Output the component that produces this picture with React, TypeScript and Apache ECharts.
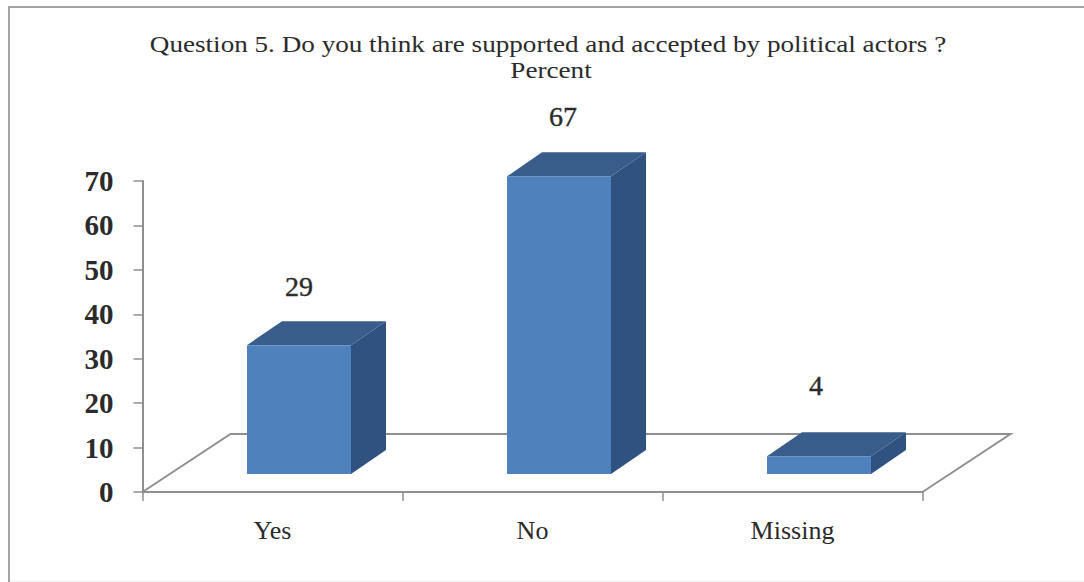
import React, { useEffect, useRef } from "react";
import * as echarts from "echarts";

const categories = ["Yes", "No", "Missing"];
const percentValues = [29, 67, 4];
const yTicks = { min: 0, max: 70, interval: 10 };
const titleLine = "Question 5. Do you think are supported and accepted by political actors ?";
const subtitleLine = "Percent";

// Oblique projection used for the fake 3D look.
const FLOOR_DX = 88;
const FLOOR_DY = -58;
const BAR_DX = 35;
const BAR_DY = -24;
const BAR_LIFT = 18; // bars stand partway back on the floor
const BAR_SHIFT = 26.5; // and sit to the right of their category centre
const BAR_WIDTH = 104;
const LABEL_NUDGE = [
  [0, -58.5],
  [4, -60],
  [-3, -71],
];

// The heading is set in a horizontally stretched serif.
const TITLE_SIZE = 24;
const TITLE_STRETCH = 1.131;

const SERIF = "'Liberation Serif', 'Times New Roman', serif";
const AXIS_GREY = "#8f8f8f";
const FRAME_GREY = "#a3a3a3";
const FRONT = "#4f81bd";
const TOP = "#385d8a";
const SIDE = "#2f5280";
const TEXT = "#2b2b2b";

function renderFloor(params: any, api: any) {
  const { x, y, width, height } = params.coordSys;
  const bottom = y + height;
  return {
    type: "polyline",
    silent: true,
    shape: {
      points: [
        [x, bottom],
        [x + FLOOR_DX, bottom + FLOOR_DY],
        [x + width + FLOOR_DX, bottom + FLOOR_DY],
        [x + width, bottom],
      ],
    },
    style: { stroke: AXIS_GREY, lineWidth: 2, fill: "none" },
  };
}

function renderBar(params: any, api: any) {
  const centre = api.coord([api.value(0), 0])[0] + BAR_SHIFT;
  const base = api.coord([api.value(0), 0])[1] - BAR_LIFT;
  const height = api.size([0, api.value(1)])[1];
  const left = centre - BAR_WIDTH / 2;
  const right = centre + BAR_WIDTH / 2;
  const top = base - height;
  const nudge = LABEL_NUDGE[params.dataIndex];
  return {
    type: "group",
    children: [
      {
        type: "polygon",
        shape: {
          points: [
            [right, top],
            [right + BAR_DX, top + BAR_DY],
            [right + BAR_DX, base + BAR_DY],
            [right, base],
          ],
        },
        style: { fill: SIDE },
      },
      {
        type: "polygon",
        shape: {
          points: [
            [left, top],
            [left + BAR_DX, top + BAR_DY],
            [right + BAR_DX, top + BAR_DY],
            [right, top],
          ],
        },
        style: { fill: TOP },
      },
      {
        type: "rect",
        shape: { x: left, y: top, width: BAR_WIDTH, height },
        style: { fill: FRONT },
      },
      {
        type: "text",
        style: {
          x: centre + nudge[0],
          y: top + nudge[1],
          text: String(api.value(1)),
          fill: TEXT,
          stroke: TEXT,
          lineWidth: 0.4,
          font: `28px ${SERIF}`,
          align: "center",
          verticalAlign: "middle",
        },
      },
    ],
  };
}

function headingText(text: string, cx: number, cy: number) {
  return {
    type: "text",
    silent: true,
    x: cx,
    y: cy,
    scaleX: TITLE_STRETCH,
    style: {
      text,
      fill: TEXT,
      font: `${TITLE_SIZE}px ${SERIF}`,
      align: "center",
      verticalAlign: "middle",
    },
  };
}

export default function App() {
  const ref = useRef<HTMLDivElement>(null);

  useEffect(() => {
    document.body.style.margin = "0";
    document.body.style.background = "#ffffff";
    const chart = echarts.init(ref.current!, undefined, { renderer: "svg" });
    chart.setOption({
      animation: false,
      backgroundColor: "#ffffff",
      grid: { left: 142.5, top: 181, width: 780, height: 311 },
      xAxis: {
        type: "category",
        data: categories,
        axisLine: { lineStyle: { color: AXIS_GREY, width: 2 } },
        axisTick: { show: true, alignWithLabel: false, length: 9, lineStyle: { color: AXIS_GREY, width: 1.5 } },
        axisLabel: { fontFamily: SERIF, fontSize: 26, color: TEXT, margin: 25 },
      },
      yAxis: {
        type: "value",
        min: yTicks.min,
        max: yTicks.max,
        interval: yTicks.interval,
        splitLine: { show: false },
        axisLine: { show: true, lineStyle: { color: AXIS_GREY, width: 2 } },
        axisTick: { show: true, length: 9, lineStyle: { color: AXIS_GREY, width: 1.5 } },
        axisLabel: { fontFamily: SERIF, fontSize: 29, fontWeight: "bold", color: TEXT, margin: 29 },
      },
      graphic: [
        {
          type: "polyline",
          silent: true,
          shape: { points: [[9, 582], [9, 7], [1084, 7]] },
          style: { fill: "none", stroke: FRAME_GREY, lineWidth: 2 },
        },
        {
          type: "line",
          silent: true,
          shape: { x1: 10, y1: 581, x2: 1084, y2: 581 },
          style: { stroke: "#ececec", lineWidth: 1 },
        },
        headingText(titleLine, 548, 44),
        headingText(subtitleLine, 551, 70),
      ],
      series: [
        {
          type: "custom",
          renderItem: renderFloor,
          data: [[0]],
          z: 1,
          silent: true,
        },
        {
          type: "custom",
          renderItem: renderBar,
          data: categories.map((_, i) => [i, percentValues[i]]),
          encode: { x: 0, y: 1 },
          z: 2,
          silent: true,
        },
      ],
    });
    return () => chart.dispose();
  }, []);

  return <div ref={ref} style={{ width: 1084, height: 582 }} />;
}
